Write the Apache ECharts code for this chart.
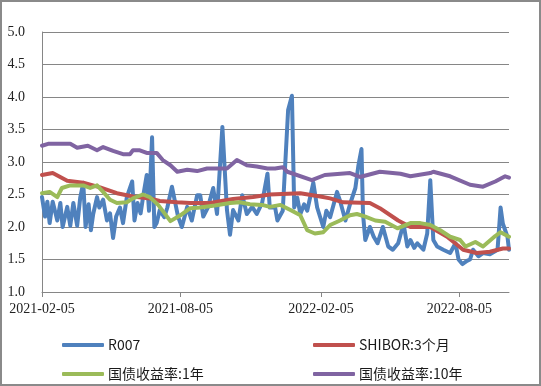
<!DOCTYPE html>
<html>
<head>
<meta charset="utf-8">
<script src="https://cdn.jsdelivr.net/npm/echarts@6/dist/echarts.min.js"></script>
<style>
html,body{margin:0;padding:0;background:#fff;}
#c{width:541px;height:386px;}
</style>
</head>
<body>
<div id="c"></div>
<script>
var startDate = '2021-02-05';
var endDate = '2022-10-09';
var tickLabels = ['2021-02-05', '2021-08-05', '2022-02-05', '2022-08-05'];
var yTicks = [1.0, 1.5, 2.0, 2.5, 3.0, 3.5, 4.0, 4.5, 5.0];
var seriesNames = ['R007', 'SHIBOR:3个月', '国债收益率:1年', '国债收益率:10年'];

var r007 = [
['2021-02-05',2.46],['2021-02-09',2.16],['2021-02-12',2.39],['2021-02-15',2.06],['2021-02-19',2.39],
['2021-02-25',2.1],['2021-03-01',2.37],['2021-03-04',2.0],['2021-03-10',2.31],['2021-03-14',2.02],
['2021-03-18',2.37],['2021-03-23',2.02],['2021-03-27',2.45],['2021-03-31',2.68],['2021-04-03',2.0],
['2021-04-07',2.35],['2021-04-10',1.95],['2021-04-13',2.2],['2021-04-18',2.46],['2021-04-21',2.3],
['2021-04-26',2.42],['2021-05-01',2.1],['2021-05-05',2.21],['2021-05-09',1.83],['2021-05-13',2.16],
['2021-05-18',2.3],['2021-05-22',2.06],['2021-05-27',2.46],['2021-06-03',2.7],['2021-06-06',2.1],
['2021-06-10',2.37],['2021-06-14',2.21],['2021-06-18',2.52],['2021-06-22',2.8],['2021-06-25',2.25],
['2021-06-29',3.38],['2021-07-02',2.0],['2021-07-05',2.06],['2021-07-09',2.26],['2021-07-15',2.15],
['2021-07-19',2.3],['2021-07-25',2.62],['2021-08-02',2.16],['2021-08-07',2.0],['2021-08-14',2.31],
['2021-08-20',2.1],['2021-08-27',2.49],['2021-08-31',2.49],['2021-09-04',2.16],['2021-09-10',2.3],
['2021-09-17',2.6],['2021-09-22',2.2],['2021-09-29',3.54],['2021-10-05',2.26],['2021-10-09',1.88],
['2021-10-13',2.26],['2021-10-20',2.1],['2021-10-25',2.49],['2021-10-31',2.2],['2021-11-07',2.31],
['2021-11-13',2.2],['2021-11-20',2.37],['2021-11-27',2.82],['2021-11-30',2.3],['2021-12-07',2.3],
['2021-12-10',2.1],['2021-12-17',2.25],['2021-12-24',3.8],['2021-12-29',4.02],
['2022-01-01',2.3],['2022-01-05',2.45],['2022-01-09',2.2],['2022-01-14',2.35],['2022-01-18',2.25],
['2022-01-26',2.68],['2022-01-31',2.3],['2022-02-08',2.0],['2022-02-12',2.25],['2022-02-17',2.15],
['2022-02-26',2.54],['2022-03-02',2.4],['2022-03-09',2.1],['2022-03-15',2.35],['2022-03-22',2.6],
['2022-03-26',2.95],['2022-03-30',3.2],['2022-04-01',2.2],['2022-04-04',1.8],['2022-04-10',2.0],
['2022-04-15',1.85],['2022-04-20',1.75],['2022-04-27',2.0],['2022-05-04',1.7],['2022-05-10',1.65],
['2022-05-17',1.75],['2022-05-24',2.05],['2022-05-29',1.7],['2022-06-02',1.8],['2022-06-07',1.68],
['2022-06-11',1.75],['2022-06-19',1.65],['2022-06-24',1.9],['2022-06-28',2.72],['2022-07-02',1.8],
['2022-07-07',1.7],['2022-07-15',1.65],['2022-07-24',1.6],['2022-07-31',1.75],['2022-08-04',1.5],
['2022-08-09',1.43],['2022-08-15',1.48],['2022-08-19',1.5],['2022-08-23',1.65],['2022-08-30',1.55],
['2022-09-05',1.6],['2022-09-14',1.58],['2022-09-24',1.65],['2022-09-28',2.3],['2022-10-01',2.05],
['2022-10-07',1.85],['2022-10-09',1.65]
];

var shibor3m = [
['2021-02-05',2.8],['2021-02-19',2.83],['2021-03-10',2.71],['2021-03-31',2.68],['2021-04-22',2.61],
['2021-05-14',2.52],['2021-06-04',2.47],['2021-06-26',2.44],['2021-07-09',2.4],['2021-08-01',2.38],
['2021-08-18',2.37],['2021-09-13',2.37],['2021-10-13',2.43],['2021-11-08',2.46],['2021-11-30',2.5],
['2022-01-09',2.52],['2022-02-04',2.47],['2022-02-17',2.44],['2022-03-06',2.38],['2022-04-10',2.37],
['2022-04-23',2.29],['2022-05-17',2.1],['2022-06-02',2.0],['2022-06-28',2.0],['2022-07-20',1.85],
['2022-08-10',1.65],['2022-08-28',1.6],['2022-09-14',1.62],['2022-10-01',1.67],['2022-10-09',1.67]
];

var gov1y = [
['2021-02-05',2.52],['2021-02-15',2.54],['2021-02-25',2.46],['2021-03-03',2.6],['2021-03-14',2.64],
['2021-03-31',2.64],['2021-04-09',2.6],['2021-04-18',2.64],['2021-04-26',2.54],['2021-05-05',2.42],
['2021-05-14',2.37],['2021-05-27',2.38],['2021-06-04',2.44],['2021-06-17',2.5],['2021-06-26',2.46],
['2021-07-07',2.34],['2021-07-23',2.09],['2021-08-05',2.18],['2021-08-18',2.29],['2021-08-31',2.3],
['2021-09-19',2.33],['2021-10-09',2.37],['2021-10-22',2.38],['2021-11-04',2.35],['2021-11-20',2.34],
['2021-11-30',2.31],['2021-12-14',2.34],['2021-12-27',2.26],['2022-01-09',2.18],['2022-01-18',1.95],
['2022-01-28',1.9],['2022-02-08',1.92],['2022-02-17',2.03],['2022-03-02',2.1],['2022-03-15',2.18],
['2022-03-24',2.2],['2022-04-04',2.16],['2022-04-17',2.1],['2022-04-30',2.08],['2022-05-16',1.98],
['2022-06-02',2.06],['2022-06-15',2.06],['2022-06-28',2.03],['2022-07-11',1.95],['2022-07-24',1.85],
['2022-08-06',1.8],['2022-08-13',1.7],['2022-08-26',1.77],['2022-09-05',1.7],['2022-09-21',1.86],
['2022-09-28',1.92],['2022-10-09',1.85]
];

var gov10y = [
['2021-02-05',3.25],['2021-02-13',3.28],['2021-03-14',3.28],['2021-03-23',3.22],['2021-04-06',3.25],
['2021-04-18',3.18],['2021-04-26',3.23],['2021-05-09',3.17],['2021-05-22',3.12],['2021-05-31',3.12],
['2021-06-04',3.18],['2021-06-13',3.18],['2021-06-22',3.14],['2021-07-05',3.14],['2021-07-13',3.03],
['2021-07-23',2.95],['2021-08-01',2.85],['2021-08-14',2.88],['2021-08-27',2.86],['2021-09-09',2.9],
['2021-09-22',2.9],['2021-10-05',2.9],['2021-10-18',3.03],['2021-10-31',2.95],['2021-11-13',2.93],
['2021-11-27',2.9],['2021-12-07',2.9],['2021-12-17',2.92],['2021-12-23',2.85],['2022-01-24',2.72],
['2022-02-10',2.8],['2022-03-15',2.83],['2022-03-28',2.77],['2022-04-23',2.85],['2022-05-20',2.82],
['2022-06-02',2.78],['2022-06-28',2.83],['2022-07-02',2.85],['2022-07-24',2.78],['2022-08-19',2.65],
['2022-09-05',2.62],['2022-09-21',2.7],['2022-10-04',2.78],['2022-10-09',2.76]
];

var colors = ['#4F81BD', '#C0504D', '#9BBB59', '#8064A2'];

function buildDays(a, b) {
  var out = [];
  var d = new Date(a + 'T00:00:00Z');
  var e = new Date(b + 'T00:00:00Z');
  while (d <= e) {
    out.push(d.toISOString().slice(0, 10));
    d.setUTCDate(d.getUTCDate() + 1);
  }
  return out;
}
var days = buildDays(startDate, endDate);
function isTick(i, v) { return tickLabels.indexOf(v) >= 0; }

var chart = echarts.init(document.getElementById('c'), null, {renderer: 'canvas'});
var allData = [r007, shibor3m, gov1y, gov10y];
var legendPos = [[57, 333], [308, 333], [57, 362], [308, 362]];

chart.setOption({
  animation: false,
  backgroundColor: '#fff',
  color: colors,
  graphic: [{
    type: 'rect', silent: true, z: -1,
    shape: {x: 1, y: 1, width: 539, height: 384},
    style: {fill: 'none', stroke: '#8a8a8a', lineWidth: 2}
  }],
  grid: {left: 42, top: 32, right: 32, bottom: 94, containLabel: false},
  legend: seriesNames.map(function (n, i) {
    return {
      data: [n], left: legendPos[i][0], top: legendPos[i][1],
      icon: 'roundRect', itemWidth: 42, itemHeight: 4, itemGap: 0,
      textStyle: {fontFamily: 'Noto Sans CJK SC', fontSize: 14, color: '#1a1a1a', padding: [0, 0, 0, -1]}
    };
  }),
  xAxis: {
    type: 'category', data: days, boundaryGap: false,
    axisLine: {lineStyle: {color: '#868686', width: 1}},
    axisTick: {interval: isTick, length: 5, lineStyle: {color: '#868686'}},
    axisLabel: {interval: isTick, margin: 10, fontFamily: 'Liberation Serif', fontSize: 14, color: '#222'},
    splitLine: {show: false}
  },
  yAxis: {
    type: 'value', min: 1.0, max: 5.0, interval: 0.5,
    axisLine: {show: true, lineStyle: {color: '#868686', width: 1}},
    axisTick: {show: false},
    axisLabel: {margin: 17, fontFamily: 'Liberation Serif', fontSize: 14, color: '#222',
      formatter: function (v) { return v.toFixed(1); }},
    splitLine: {lineStyle: {color: '#868686', width: 1}}
  },
  series: allData.map(function (d, i) {
    return {
      name: seriesNames[i], type: 'line', data: d, showSymbol: false, symbol: 'none',
      lineStyle: {width: 4, color: colors[i], cap: 'round', join: 'round'},
      itemStyle: {color: colors[i]}
    };
  })
});
</script>
</body>
</html>
